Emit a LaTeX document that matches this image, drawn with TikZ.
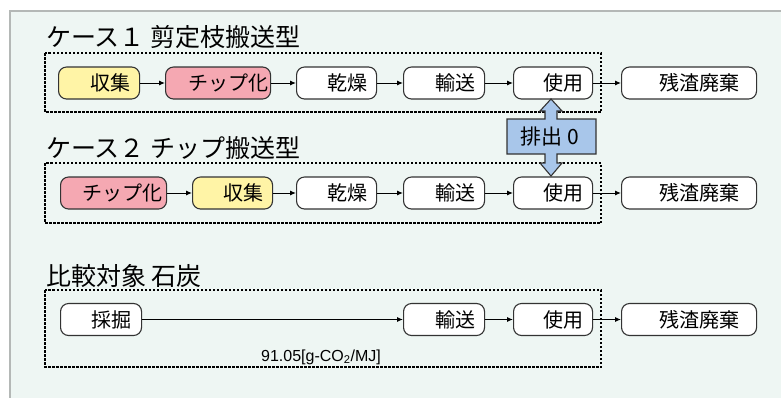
\documentclass[tikz,border=0pt]{standalone}
\usepackage{fontspec}
\setmainfont{Noto Sans CJK JP}
\newfontfamily\arialfont{Liberation Sans}
\usetikzlibrary{arrows.meta}
\definecolor{panelbg}{HTML}{EEF6F3}
\definecolor{panelln}{HTML}{B4B8B6}
\definecolor{yel}{HTML}{FFF4A6}
\definecolor{pnk}{HTML}{F5A8B2}
\definecolor{blu}{HTML}{A8C6EA}
\definecolor{ln}{HTML}{333333}
\begin{document}
\begin{tikzpicture}[x=1pt,y=-1pt,
  proc/.style={draw=ln, line width=1.1pt, rounded corners=8pt, minimum height=32pt, inner sep=0pt, font=\fontsize{20}{20}\selectfont, anchor=west, fill=white},
  flow/.style={-{Latex[length=6pt,width=5pt]}, line width=1pt, draw=black},
  grp/.style={draw=black, line width=1.3pt, dash pattern=on 2.5pt off 1.5pt},
  ttl/.style={anchor=west, inner sep=0pt, font=\fontsize{25}{25}\selectfont}]
\useasboundingbox (0,0) rectangle (781,397);
\clip (0,0) rectangle (781,397);
\fill[white] (0,0) rectangle (781,397);
\fill[panelbg] (10,11) rectangle (800,410);
\draw[panelln, line width=1.5pt] (10,420) -- (10,11) -- (800,11);

% titles
\node[ttl] (t1) at (46,37) {ケース１ 剪定枝搬送型};
\node[ttl] (t2) at (46,148) {ケース２ チップ搬送型};
\node[ttl] (t3) at (46,276) {比較対象 石炭};

% group boxes
\draw[grp] (45,53) rectangle (601,112);
\draw[grp] (45,163) rectangle (601,223);
\draw[grp] (45,290) rectangle (601,367);

% row 1
\node[proc, fill=yel, minimum width=81pt] (a1) at (58,83) {\hspace*{22pt}収集};
\node[proc, fill=pnk, minimum width=105pt] (b1) at (165,83) {\hspace*{20pt}チップ化};
\node[proc, minimum width=80pt] (c1) at (296,83) {\hspace*{22pt}乾燥};
\node[proc, minimum width=81pt] (d1) at (403,83) {\hspace*{22pt}輸送};
\node[proc, minimum width=79pt] (e1) at (513,83) {\hspace*{20pt}使用};
\node[proc, minimum width=135pt] (f1) at (621,83) {\hspace*{21pt}残渣廃棄};
\draw[flow] (a1) -- (b1);
\draw[flow] (b1) -- (c1);
\draw[flow] (c1) -- (d1);
\draw[flow] (d1) -- (e1);
\draw[flow] (e1) -- (f1);

% row 2
\node[proc, fill=pnk, minimum width=106pt] (a2) at (60,193) {\hspace*{18pt}チップ化};
\node[proc, fill=yel, minimum width=80pt] (b2) at (192,193) {\hspace*{22pt}収集};
\node[proc, minimum width=80pt] (c2) at (296,193) {\hspace*{22pt}乾燥};
\node[proc, minimum width=81pt] (d2) at (403,193) {\hspace*{22pt}輸送};
\node[proc, minimum width=79pt] (e2) at (513,193) {\hspace*{20pt}使用};
\node[proc, minimum width=135pt] (f2) at (621,193) {\hspace*{21pt}残渣廃棄};
\draw[flow] (a2) -- (b2);
\draw[flow] (b2) -- (c2);
\draw[flow] (c2) -- (d2);
\draw[flow] (d2) -- (e2);
\draw[flow] (e2) -- (f2);

% row 3
\node[proc, minimum width=81pt] (a3) at (60,319.5) {\hspace*{21pt}採掘};
\node[proc, minimum width=81pt] (d3) at (403,319.5) {\hspace*{22pt}輸送};
\node[proc, minimum width=79pt] (e3) at (513,319.5) {\hspace*{20pt}使用};
\node[proc, minimum width=135pt] (f3) at (621,319.5) {\hspace*{21pt}残渣廃棄};
\draw[flow] (a3) -- (d3);
\draw[flow] (d3) -- (e3);
\draw[flow] (e3) -- (f3);
\node[font=\arialfont\fontsize{16}{16}\selectfont, inner sep=0pt, anchor=base] (lab) at (321,361) {91.05[g-CO\textsubscript{2}/MJ]};

% emission double arrow
\draw[fill=blu, draw=ln, line width=1.1pt, line join=miter]
  (545,119) -- (545,111) -- (540,111) -- (551,99) -- (562,111) -- (557,111) -- (557,119)
  -- (596,119) -- (596,154) -- (557,154) -- (557,163) -- (562,163) -- (551,176)
  -- (540,163) -- (545,163) -- (545,154) -- (507,154) -- (507,119) -- cycle;
\node[font=\fontsize{21}{21}\selectfont, inner sep=0pt] (ex) at (550,137) {排出 0};
\end{tikzpicture}
\end{document}
